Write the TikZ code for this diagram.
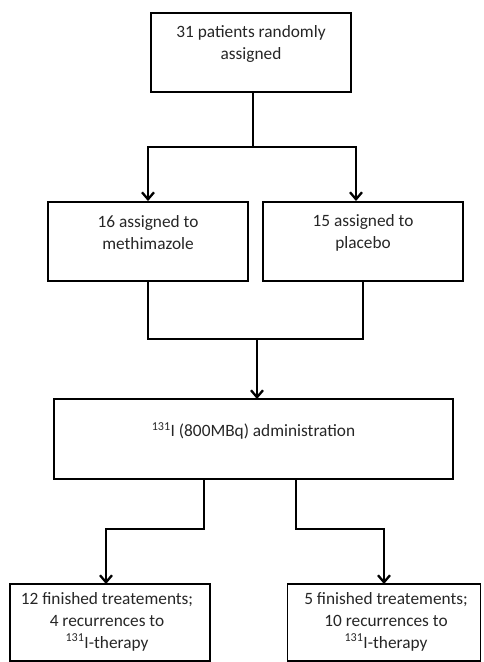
\documentclass[tikz,border=0pt]{standalone}
\usepackage{fontspec}
\setmainfont{Carlito}
\usetikzlibrary{arrows.meta}
\begin{document}
\begin{tikzpicture}[x=1pt,y=-1pt,
  box/.style={draw=black, line width=1.9pt, inner sep=0pt},
  txt/.style={align=center, font=\fontsize{17.3}{22}\selectfont, text=black!85, inner sep=0pt},
  conn/.style={draw=black, line width=2.8pt},
  arr/.style={conn, -{Straight Barb[length=7pt,width=12pt,line width=2.3pt]}}]
\useasboundingbox (0,0) rectangle (483,662);
% boxes
\node[box, minimum width=200pt, minimum height=79pt] (top) at (251,52.5) {};
\node[txt] (topt) at (251,43.5) {31 patients randomly\\assigned};
\node[box, minimum width=200pt, minimum height=79pt] (mleft) at (148,241.5) {};
\node[txt] (mleftt) at (148,233) {16 assigned to\\methimazole};
\node[box, minimum width=200pt, minimum height=79pt] (mright) at (363,241.5) {};
\node[txt] (mrightt) at (363,233) {15 assigned to\\placebo};
\node[box, minimum width=399pt, minimum height=80pt] (admin) at (253.5,439) {};
\node[txt] (admint) at (253.5,431) {\textsuperscript{131}I (800MBq) administration};
\node[box, minimum width=200pt, minimum height=77pt] (bleft) at (110,622.5) {};
\node[txt] (blefttx) at (107,621.5) {12 finished treatements;\\4 recurrences to\\\textsuperscript{131}I-therapy};
\node[box, minimum width=193pt, minimum height=77pt] (bright) at (384,622.5) {};
\node[txt] (brighttx) at (386,621.5) {5 finished treatements;\\10 recurrences to\\\textsuperscript{131}I-therapy};
% junction coordinates
\coordinate (j1) at (253,147);
\coordinate (tR) at (356,201);
\coordinate (s1) at (253,92);
\coordinate (j2) at (257,339);
\coordinate (a1) at (257,399);
\coordinate (pL) at (148,281);
\coordinate (pR) at (363,281);
\coordinate (dL) at (204,479);
\coordinate (dR) at (296,479);
\coordinate (kL) at (204,529);
\coordinate (kR) at (296,529);
\coordinate (eL) at (106,584);
\coordinate (eR) at (384,584);
% connectors
\draw[conn] (s1) -- (j1);
\draw[arr] (j1) -| (mleft.north);
\draw[arr] (j1) -| (tR);
\draw[conn] (pL) |- (j2);
\draw[conn] (pR) |- (j2);
\draw[arr] (j2) -- (a1);
\draw[arr] (dL) -- (kL) -| (eL);
\draw[arr] (dR) -- (kR) -| (eR);
\end{tikzpicture}
\end{document}
